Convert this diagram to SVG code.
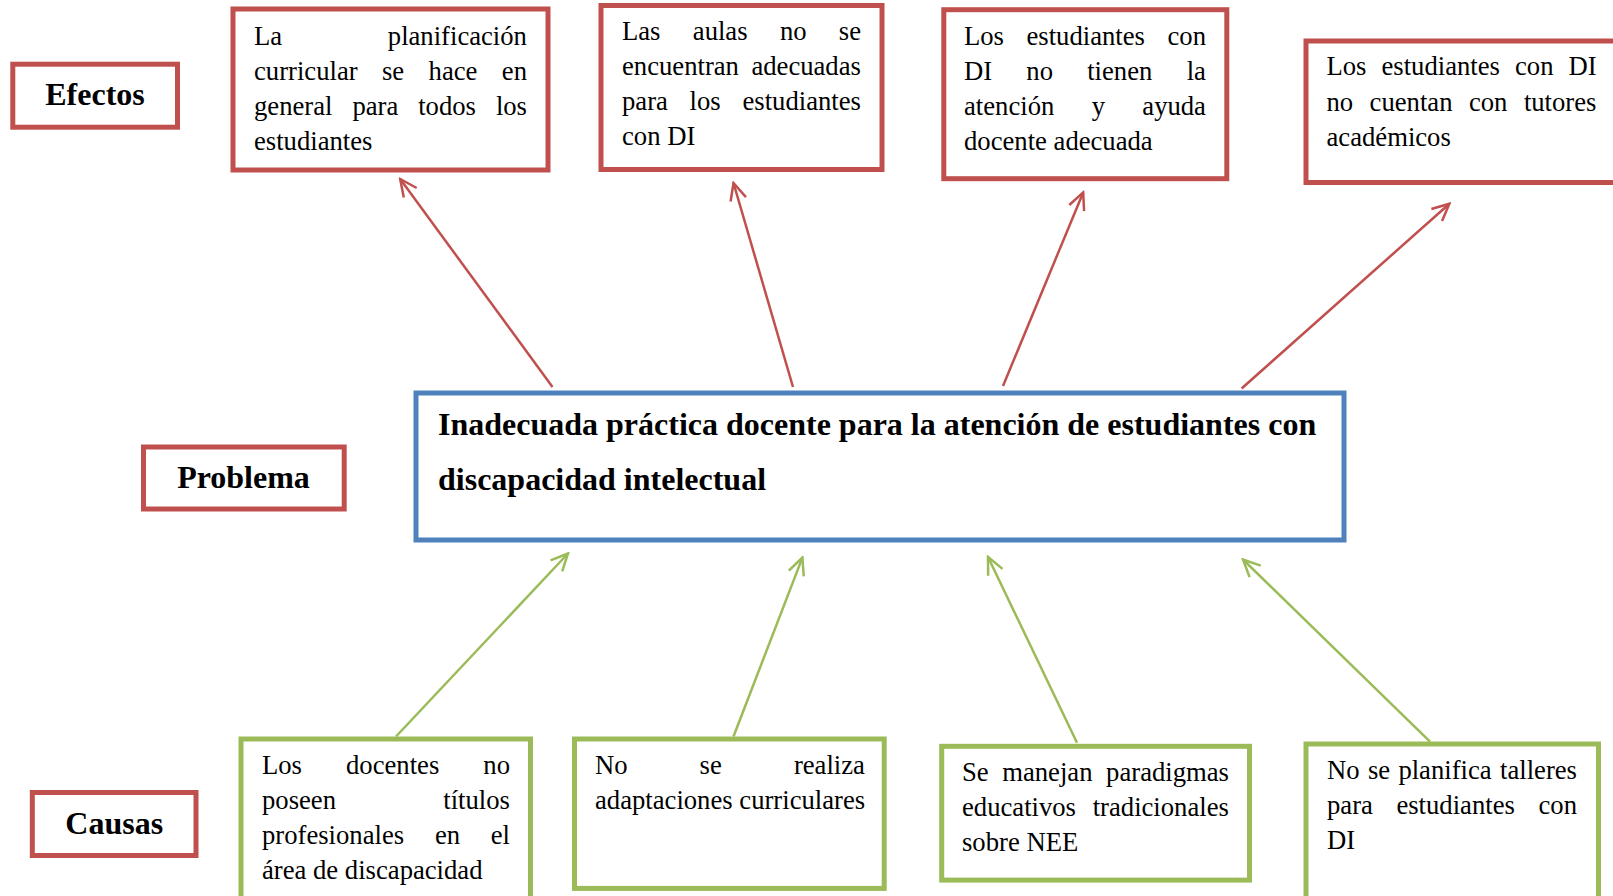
<svg xmlns="http://www.w3.org/2000/svg" width="1613" height="896" viewBox="0 0 1613 896">
<style>
.bg{fill:#ffffff}
.red{fill:#ffffff;stroke:#C0504D;stroke-width:5}
.blue{fill:#ffffff;stroke:#4F81BD;stroke-width:5}
.green{fill:#ffffff;stroke:#9BBB59;stroke-width:5}
.t{font-family:"Liberation Serif","Times New Roman",serif;font-size:26.67px;fill:#000000}
.b{font-family:"Liberation Serif","Times New Roman",serif;font-size:32px;font-weight:bold;fill:#000000}
.c{text-anchor:middle}
.ar{fill:none;stroke:#C0504D;stroke-width:2.5}
.ag{fill:none;stroke:#9BBB59;stroke-width:2.5}
</style>
<defs>
<marker id="mr" viewBox="-20 -10 22 20" refX="0" refY="0" markerWidth="22" markerHeight="20" markerUnits="userSpaceOnUse" orient="auto">
<path d="M-17,-8 L0,0 L-17,8" fill="none" stroke="#C0504D" stroke-width="2.5"/>
</marker>
<marker id="mg" viewBox="-20 -10 22 20" refX="0" refY="0" markerWidth="22" markerHeight="20" markerUnits="userSpaceOnUse" orient="auto">
<path d="M-17,-8 L0,0 L-17,8" fill="none" stroke="#9BBB59" stroke-width="2.5"/>
</marker>
</defs>
<rect class="bg" x="0" y="0" width="1613" height="896"/>

<g id="connectors">
<line class="ar" x1="552.5" y1="387" x2="400.2" y2="179" marker-end="url(#mr)"/>
<line class="ar" x1="793" y1="387" x2="733.5" y2="183" marker-end="url(#mr)"/>
<line class="ar" x1="1003" y1="386" x2="1083.2" y2="192.4" marker-end="url(#mr)"/>
<line class="ar" x1="1241.6" y1="388.5" x2="1449.4" y2="203.7" marker-end="url(#mr)"/>
<line class="ag" x1="396" y1="736.5" x2="568" y2="553.5" marker-end="url(#mg)"/>
<line class="ag" x1="733.5" y1="736.5" x2="802.4" y2="557.6" marker-end="url(#mg)"/>
<line class="ag" x1="1077" y1="742.7" x2="988" y2="557" marker-end="url(#mg)"/>
<line class="ag" x1="1430" y1="741.7" x2="1243" y2="559.5" marker-end="url(#mg)"/>
</g>

<g id="label-efectos">
<rect class="red" x="12.8" y="64.2" width="164.7" height="63"/>
<text class="b c" x="95" y="105">Efectos</text>
</g>
<g id="label-problema">
<rect class="red" x="143.5" y="447" width="200.7" height="62"/>
<text class="b c" x="243.5" y="488">Problema</text>
</g>
<g id="label-causas">
<rect class="red" x="32.3" y="792.5" width="163.7" height="63"/>
<text class="b c" x="114.2" y="834">Causas</text>
</g>

<g id="problem">
<rect class="blue" x="416" y="393" width="928" height="147"/>
<text class="b" x="438" y="434.5">Inadecuada práctica docente para la atención de estudiantes con</text>
<text class="b" x="438" y="489.5">discapacidad intelectual</text>
</g>

<g id="effect1">
<rect class="red" x="233" y="9" width="315" height="161"/>
<text class="t" y="44.5"><tspan x="254">La</tspan><tspan x="387.8">planificación</tspan></text>
<text class="t" y="79.5"><tspan x="254">curricular</tspan><tspan x="382">se</tspan><tspan x="428.6">hace</tspan><tspan x="501.8">en</tspan></text>
<text class="t" y="114.5"><tspan x="254">general</tspan><tspan x="352.4">para</tspan><tspan x="418.2">todos</tspan><tspan x="495.9">los</tspan></text>
<text class="t" x="254" y="149.5">estudiantes</text>
</g>

<g id="effect2">
<rect class="red" x="601" y="5.5" width="281" height="164"/>
<text class="t" y="40"><tspan x="622">Las</tspan><tspan x="692.8">aulas</tspan><tspan x="779.9">no</tspan><tspan x="838.8">se</tspan></text>
<text class="t" y="75"><tspan x="622">encuentran</tspan><tspan x="751.4">adecuadas</tspan></text>
<text class="t" y="110"><tspan x="622">para</tspan><tspan x="689.6">los</tspan><tspan x="742.5">estudiantes</tspan></text>
<text class="t" x="622" y="145">con DI</text>
</g>

<g id="effect3">
<rect class="red" x="943.8" y="9.7" width="283" height="169"/>
<text class="t" y="44.5"><tspan x="964">Los</tspan><tspan x="1026.5">estudiantes</tspan><tspan x="1167.5">con</tspan></text>
<text class="t" y="79.5"><tspan x="964">DI</tspan><tspan x="1026.3">no</tspan><tspan x="1087.2">tienen</tspan><tspan x="1186.7">la</tspan></text>
<text class="t" y="114.5"><tspan x="964">atención</tspan><tspan x="1091.7">y</tspan><tspan x="1142.3">ayuda</tspan></text>
<text class="t" x="964" y="149.5">docente adecuada</text>
</g>

<g id="effect4">
<rect class="red" x="1306" y="41" width="330" height="141.5"/>
<text class="t" y="75"><tspan x="1326.5">Los</tspan><tspan x="1381.5">estudiantes</tspan><tspan x="1515">con</tspan><tspan x="1568.4">DI</tspan></text>
<text class="t" y="110.5"><tspan x="1326.5">no</tspan><tspan x="1369.6">cuentan</tspan><tspan x="1468.9">con</tspan><tspan x="1523.9">tutores</tspan></text>
<text class="t" x="1326.5" y="146">académicos</text>
</g>

<g id="cause1">
<rect class="green" x="241" y="739" width="289.5" height="200"/>
<text class="t" y="774"><tspan x="262">Los</tspan><tspan x="346">docentes</tspan><tspan x="483.3">no</tspan></text>
<text class="t" y="809"><tspan x="262">poseen</tspan><tspan x="443.3">títulos</tspan></text>
<text class="t" y="844"><tspan x="262">profesionales</tspan><tspan x="434.9">en</tspan><tspan x="490.7">el</tspan></text>
<text class="t" x="262" y="879">área de discapacidad</text>
</g>

<g id="cause2">
<rect class="green" x="574.5" y="739" width="309.7" height="149.4"/>
<text class="t" y="774"><tspan x="595">No</tspan><tspan x="699.6">se</tspan><tspan x="793.9">realiza</tspan></text>
<text class="t" x="595" y="809">adaptaciones curriculares</text>
</g>

<g id="cause3">
<rect class="green" x="941.7" y="746.3" width="307.8" height="133.8"/>
<text class="t" y="781"><tspan x="962">Se</tspan><tspan x="1002.2">manejan</tspan><tspan x="1106.1">paradigmas</tspan></text>
<text class="t" y="816"><tspan x="962">educativos</tspan><tspan x="1092.7">tradicionales</tspan></text>
<text class="t" x="962" y="851">sobre NEE</text>
</g>

<g id="cause4">
<rect class="green" x="1306" y="744" width="292.5" height="200"/>
<text class="t" y="779"><tspan x="1327">No</tspan><tspan x="1367.9">se</tspan><tspan x="1398.4">planifica</tspan><tspan x="1500">talleres</tspan></text>
<text class="t" y="814"><tspan x="1327">para</tspan><tspan x="1396.4">estudiantes</tspan><tspan x="1538.5">con</tspan></text>
<text class="t" x="1327" y="849">DI</text>
</g>
</svg>
